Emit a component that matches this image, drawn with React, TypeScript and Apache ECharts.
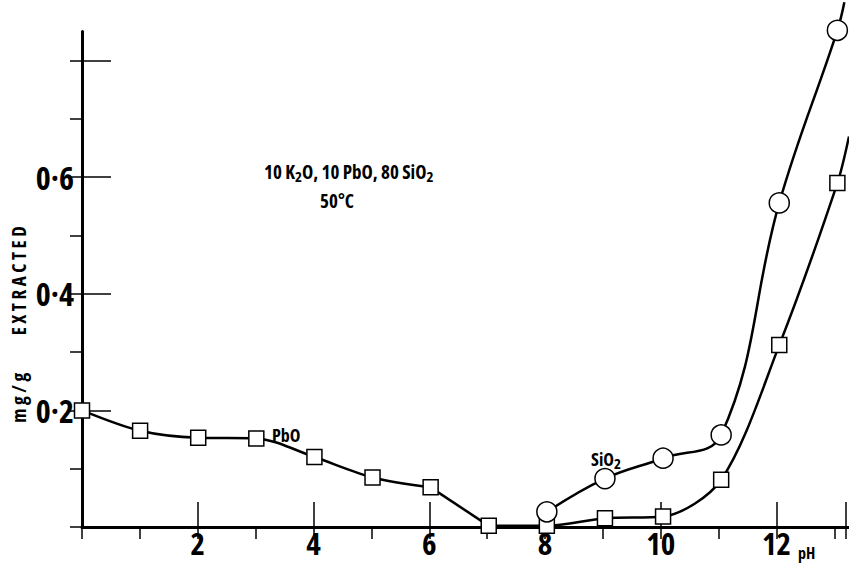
import React, { useEffect, useRef } from "react";
import * as echarts from "echarts";

// ---- data ----
const phPbO = [0, 1, 2, 3, 4, 5, 6, 7, 8, 9, 10, 11, 12, 13];
const pboValues = [0.2, 0.165, 0.153, 0.152, 0.12, 0.085, 0.068, 0.002, 0.002, 0.015, 0.018, 0.081, 0.312, 0.59];
const pboTail = [13.2, 0.67]; // curve continues off the right edge
const phSiO2 = [8, 9, 10, 11, 12, 13];
const sio2Values = [0.026, 0.083, 0.118, 0.158, 0.556, 0.852];
const sio2Tail = [13.12, 0.9]; // curve continues off the top edge
const xTickValues = [2, 4, 6, 8, 10, 12];
const xTickLabels = ["2", "4", "6", "8", "10", "12"];
const yTickValues = [0.2, 0.4, 0.6];
const yTickLabels = ["0·2", "0·4", "0·6"];

const F = "'Open Sans';font-stretch:condensed";
const FSPACED = "'Open Sans';font-stretch:condensed;letter-spacing:3.5px";
const richFont = (size: number) => `normal condensed bold ${size}px 'Open Sans'`;

export default function App() {
  const ref = useRef<HTMLDivElement>(null);

  useEffect(() => {
    if (!ref.current) return;
    const chart = echarts.init(ref.current, undefined, { renderer: "svg" });

    const pts = (xs: number[], ys: number[]) => xs.map((x, i) => [x, ys[i]]);
    const pboAll = pts(phPbO, pboValues);
    const pboA = pboAll.slice(0, 7); // pH 0..6, smooth
    const pboB = pboAll.slice(6, 8); // pH 6..7, straight drop
    const pboC: any[] = pboAll.slice(7); // pH 7..13, smooth
    pboC.push({ value: pboTail, symbol: "none" });
    const sioData: any[] = pts(phSiO2, sio2Values);
    sioData.push({ value: sio2Tail, symbol: "none" });

    const xFmt = (v: number) => {
      const i = xTickValues.findIndex((t) => Math.abs(t - v) < 1e-6);
      return i >= 0 ? xTickLabels[i] : "";
    };
    const yFmt = (v: number) => {
      const i = yTickValues.findIndex((t) => Math.abs(t - v) < 1e-6);
      return i >= 0 ? yTickLabels[i] : "";
    };

    const lineStyle = { color: "#000", width: 2.5 };
    const markStyle = { color: "#fff", borderColor: "#000", borderWidth: 1.5 };
    const base = { type: "line", xAxisIndex: 0, yAxisIndex: 0, clip: false, lineStyle, itemStyle: markStyle, z: 3 };

    const gridBottom = 36;
    const option: any = {
      animation: false,
      backgroundColor: "#ffffff",
      grid: [
        { left: 82, right: 0, top: 31.5, bottom: gridBottom },
        { left: 82, right: 0, top: 60.6, bottom: gridBottom },
      ],
      xAxis: [
        {
          type: "value", gridIndex: 0, min: 0, max: 13.2,
          axisLine: { show: true, lineStyle: { color: "#000", width: 3 } },
          axisTick: { show: false }, axisLabel: { show: false }, splitLine: { show: false },
        },
        {
          type: "value", gridIndex: 1, min: 0, max: 13.2, interval: 2,
          axisLine: { show: false },
          axisTick: { show: true, inside: true, length: 25, lineStyle: { color: "#000", width: 1.5 } },
          axisLabel: {
            show: true, formatter: xFmt, color: "#000", fontFamily: F, fontWeight: "bold",
            fontSize: 31, margin: 11,
          },
          splitLine: { show: false },
        },
        {
          type: "value", gridIndex: 1, min: 0, max: 13.2, interval: 1,
          axisLine: { show: false },
          axisTick: { show: true, inside: true, length: 12, lineStyle: { color: "#000", width: 1.5 } },
          axisLabel: { show: false }, splitLine: { show: false },
        },
      ],
      yAxis: [
        {
          type: "value", gridIndex: 0, min: 0, max: 0.85,
          axisLine: { show: true, lineStyle: { color: "#000", width: 3 } },
          axisTick: { show: false }, axisLabel: { show: false }, splitLine: { show: false },
        },
        {
          type: "value", gridIndex: 1, min: 0, max: 0.8, interval: 0.2,
          axisLine: { show: false },
          axisTick: { show: true, inside: true, length: 29, lineStyle: { color: "#000", width: 1.5 } },
          axisLabel: {
            show: true, formatter: yFmt, color: "#000", fontFamily: F, fontWeight: "bold",
            fontSize: 32, margin: 8,
          },
          splitLine: { show: false },
        },
        {
          type: "value", gridIndex: 1, min: 0, max: 0.8, interval: 0.1,
          axisLine: { show: false },
          axisTick: { show: true, inside: true, length: 12, lineStyle: { color: "#000", width: 1.5 } },
          axisLabel: { show: false }, splitLine: { show: false },
        },
      ],
      series: [
        { ...base, name: "PbO", data: pboA, smooth: 0.3, symbol: "rect", symbolSize: 15 },
        { ...base, name: "PbO", data: pboB, smooth: false, symbol: "none", z: 2 },
        { ...base, name: "PbO", data: pboC, smooth: 0.3, symbol: "rect", symbolSize: 15 },
        { ...base, name: "SiO2", data: sioData, smooth: 0.4, symbol: "circle", symbolSize: 20 },
      ],
      graphic: [
        {
          type: "text", x: 264, y: 162, z: 10,
          style: {
            text: "{a|10 K}{s|2}{a|O, 10 PbO, 80 SiO}{s|2}",
            align: "left", verticalAlign: "top",
            rich: {
              a: { font: richFont(19), fill: "#000", lineHeight: 20 },
              s: { font: richFont(15), fill: "#000", lineHeight: 18, padding: [8, 0, 0, 0] },
            },
          },
        },
        {
          type: "text", x: 337, y: 191, z: 10,
          style: { text: "50°C", align: "center", verticalAlign: "top", fontFamily: F, fontWeight: "bold", fontSize: 19, fill: "#000" },
        },
        {
          type: "text", x: 272, y: 425, z: 10,
          style: { text: "PbO", align: "left", verticalAlign: "top", fontFamily: F, fontWeight: "bold", fontSize: 18, fill: "#000" },
        },
        {
          type: "text", x: 591, y: 447, z: 10,
          style: {
            text: "{a|SiO}{s|2}", align: "left", verticalAlign: "top",
            rich: {
              a: { font: richFont(18), fill: "#000" },
              s: { font: richFont(15), fill: "#000", padding: [8, 0, 0, 0] },
            },
          },
        },
        {
          type: "text", x: 798, y: 544, z: 10,
          style: { text: "pH", align: "left", verticalAlign: "top", fontFamily: F, fontWeight: "bold", fontSize: 16, fill: "#000" },
        },
        {
          type: "text", x: 18.5, y: 279, rotation: Math.PI / 2, z: 10,
          style: { text: "EXTRACTED", align: "center", verticalAlign: "middle", fontFamily: FSPACED, fontWeight: "bold", fontSize: 19, fill: "#000" },
        },
        {
          type: "text", x: 18.5, y: 396, rotation: Math.PI / 2, z: 10,
          style: { text: "mg/g", align: "center", verticalAlign: "middle", fontFamily: FSPACED, fontWeight: "bold", fontSize: 19, fill: "#000" },
        },
      ],
    };

    chart.setOption(option);
    return () => chart.dispose();
  }, []);

  return (
    <div
      ref={ref}
      style={{ position: "fixed", left: 0, top: 0, width: 849, height: 563, background: "#fff" }}
    />
  );
}
